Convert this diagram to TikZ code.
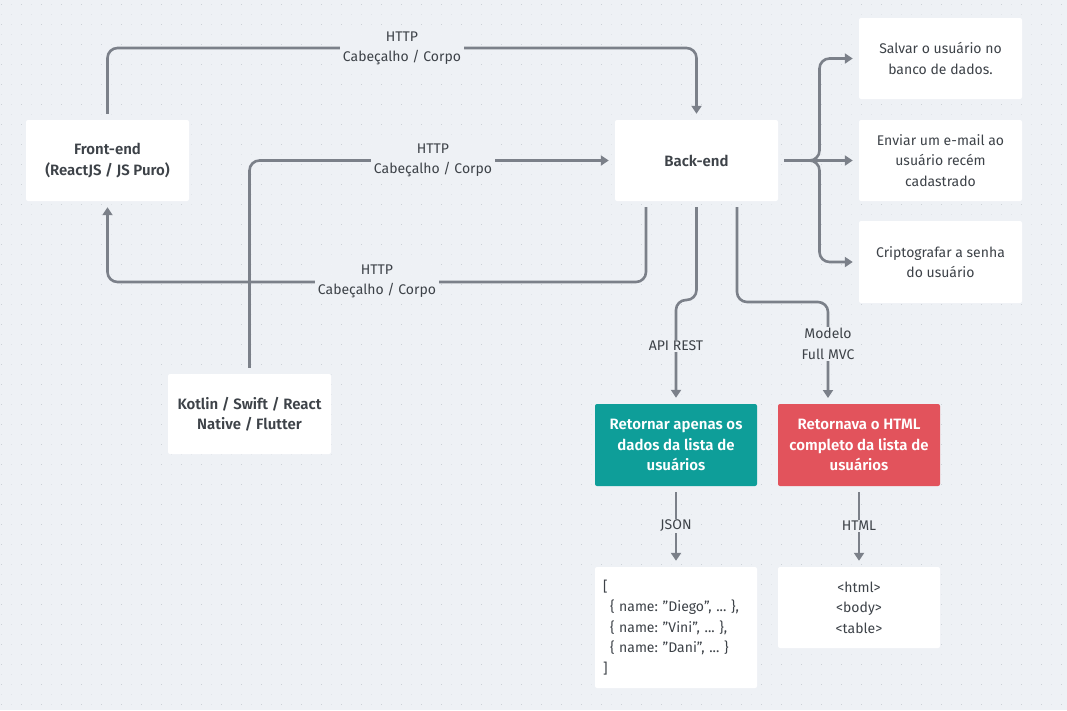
\documentclass[tikz,border=0pt]{standalone}
\usepackage{fontspec}
\setmainfont{Fira Sans}[BoldFont={Fira Sans SemiBold}]
\usetikzlibrary{arrows.meta}
\definecolor{bgc}{HTML}{EEF1F5}
\definecolor{dotf}{HTML}{E0E4E9}
\definecolor{dots}{HTML}{CBD0D6}
\definecolor{linec}{HTML}{7B8089}
\definecolor{textc}{HTML}{3D4248}
\definecolor{tealc}{HTML}{0E9E99}
\definecolor{redc}{HTML}{E2535C}
\newcommand{\dq}{\char"22\relax}
\tikzset{
  box/.style={fill=white, rounded corners=2pt, minimum width=163pt, minimum height=81pt, align=center, text=textc, inner sep=4pt},
  boldbox/.style={box, font=\fontsize{15}{20.5}\selectfont\bfseries},
  colbox/.style={box, font=\fontsize{15}{20.5}\selectfont\bfseries, text=white, minimum width=162pt, minimum height=82pt},
  conn/.style={draw=linec, line width=2.6pt, rounded corners=10pt, shorten <=6pt, shorten >=6pt, -{Triangle[width=10pt,length=8pt]}},
  lbl/.style={fill=bgc, inner xsep=3pt, inner ysep=1pt, align=center, text=textc},
}
\begin{document}
\frenchspacing
\begin{tikzpicture}[x=1pt,y=-1pt, font=\fontsize{14}{20.5}\selectfont]
\useasboundingbox (0,0) rectangle (1067,710);
\fill[bgc] (0,0) rectangle (1067,710);
% dotted grid
\foreach \r in {0,...,70} {
  \draw[dotf, line width=1.3pt, dash pattern=on 1.3pt off 8.7pt] (1.05,{4.3+10*\r}) -- (1067,{4.3+10*\r});
}
\foreach \r in {0,...,35} {
  \draw[dots, line width=1.3pt, dash pattern=on 1.3pt off 18.7pt] (1.05,{4.3+20*\r}) -- (1067,{4.3+20*\r});
}
% nodes
\node[boldbox] (fe) at (107.5,160.5) {Front-end\\(ReactJS / JS Puro)};
\node[boldbox] (be) at (696.5,160.5) {Back-end};
\node[box] (s1) at (940.5,58.5) {Salvar o usuário no\\banco de dados.};
\node[box] (s2) at (940.5,160.5) {Enviar um e-mail ao\\usuário recém\\cadastrado};
\node[box, minimum height=82pt] (s3) at (940.5,262) {Criptografar a senha\\do usuário};
\node[boldbox, minimum height=80pt] (ko) at (249.5,414) {Kotlin / Swift / React\\Native / Flutter};
\node[colbox, fill=tealc] (tl) at (676,445) {Retornar apenas os\\dados da lista de\\usuários};
\node[colbox, fill=redc] (rd) at (859,445) {Retornava o HTML\\completo da lista de\\usuários};
\node[box, minimum width=162pt, minimum height=121pt, align=left, text width=146pt, inner xsep=8pt] (js) at (676,627.5)
  {[\\\hspace*{7pt}\{ name: \dq Diego\dq, ... \},\\\hspace*{7pt}\{ name: \dq Vini\dq, ... \},\\\hspace*{7pt}\{ name: \dq Dani\dq, ... \}\\]};
\node[box, minimum width=162pt] (ht) at (859,607.5) {<html>\\<body>\\<table>};
% helper coordinates
\coordinate (c1a) at (107.5,48);
\coordinate (c1b) at (696.5,48);
\coordinate (c2) at (249.5,160.5);
\coordinate (b1) at (646,201);
\coordinate (c3a) at (646,282);
\coordinate (c3b) at (107.5,282);
\coordinate (c4a) at (696.5,300);
\coordinate (c4b) at (676,300);
\coordinate (b2) at (737,201);
\coordinate (c5a) at (737,302);
\coordinate (c5b) at (828,302);
\coordinate (e5) at (828,404);
\coordinate (br) at (819.5,160.5);
\coordinate (brt) at (819.5,58.5);
\coordinate (brb) at (819.5,262);
% connectors
\draw[conn] (fe.north) -- (c1a) -- (c1b) -- (be.north);
\draw[conn] (ko.north) -- (c2) -- (be.west);
\draw[conn] (b1) -- (c3a) -- (c3b) -- (fe.south);
\draw[conn] (be.south) -- (c4a) -- (c4b) -- (tl.north);
\draw[conn] (b2) -- (c5a) -- (c5b) -- (e5);
\draw[conn] (be.east) -- (br) -- (brt) -- (s1.west);
\draw[conn] (be.east) -- (s2.west);
\draw[conn] (be.east) -- (br) -- (brb) -- (s3.west);
\draw[conn] (tl.south) -- (js.north);
\draw[conn] (rd.south) -- (ht.north);
% labels
\node[lbl] (l1) at (402,48.5) {HTTP\\Cabeçalho / Corpo};
\node[lbl] (l2) at (433,160.5) {HTTP\\Cabeçalho / Corpo};
\node[lbl] (l3) at (377,281.5) {HTTP\\Cabeçalho / Corpo};
\node[lbl] (l4) at (676,346) {API REST};
\node[lbl] (l5) at (828,344) {Modelo\\Full MVC};
\node[lbl] (l6) at (676,526) {JSON};
\node[lbl] (l7) at (859,526) {HTML};
\end{tikzpicture}
\end{document}
